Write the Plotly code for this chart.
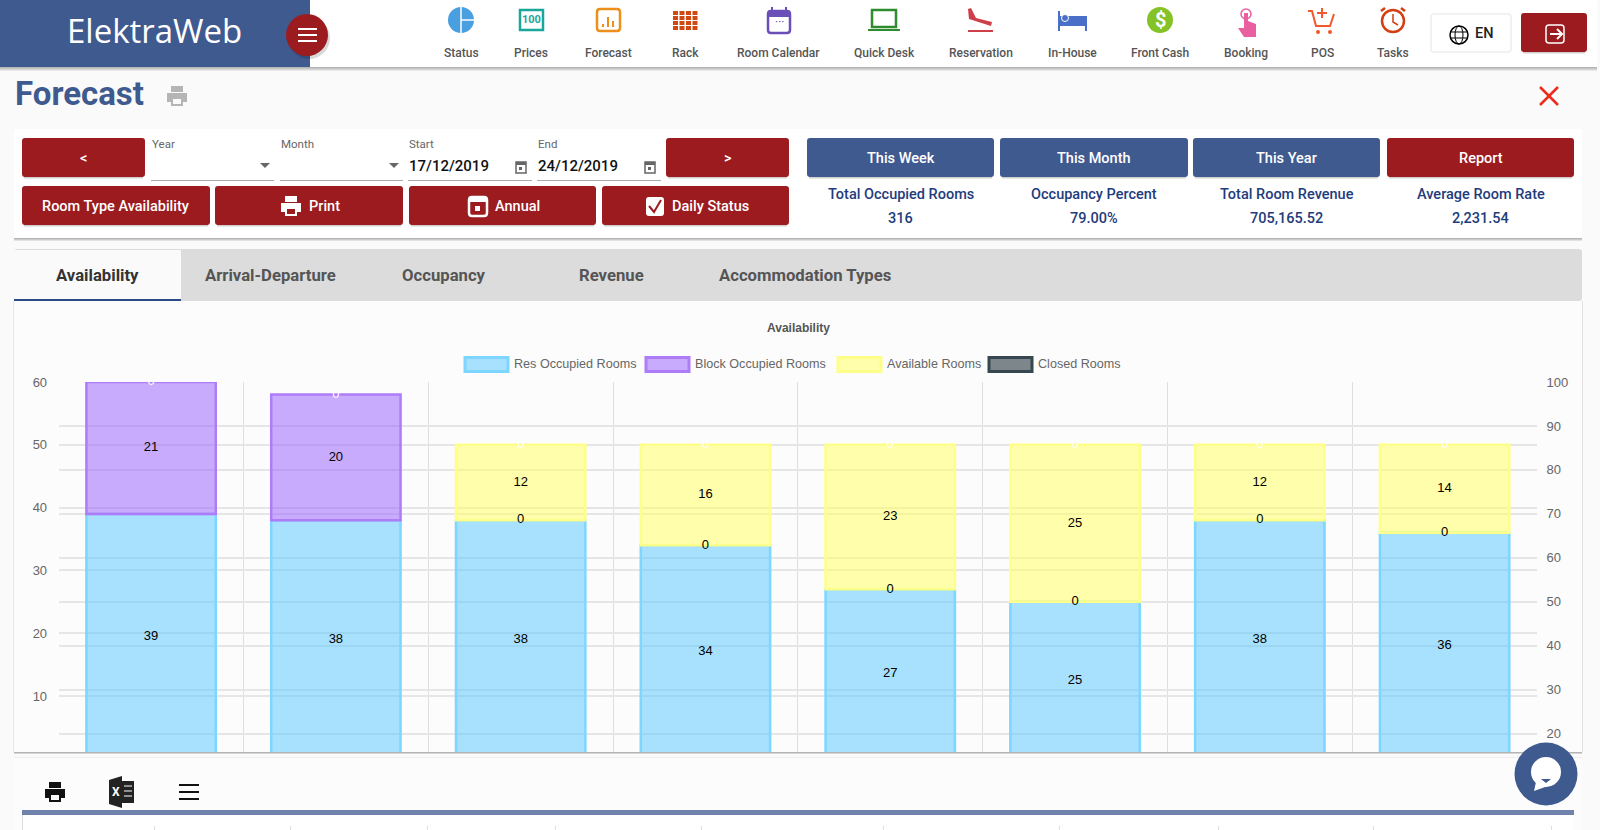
import plotly.graph_objects as go

# Chart values
dates = ["17/12/2019", "18/12/2019", "19/12/2019", "20/12/2019",
         "21/12/2019", "22/12/2019", "23/12/2019", "24/12/2019"]
res_occupied = [39, 38, 38, 34, 27, 25, 38, 36]
block_occupied = [21, 20, 0, 0, 0, 0, 0, 0]
available = [0, 0, 12, 16, 23, 25, 12, 14]
closed = [0, 0, 0, 0, 0, 0, 0, 0]

series_names = ["Res Occupied Rooms", "Block Occupied Rooms", "Available Rooms", "Closed Rooms"]
series_fill = ["rgba(83,198,255,0.5)", "rgba(150,90,253,0.5)", "rgba(255,255,90,0.5)", "rgba(55,71,79,0.65)"]
series_line = ["#7dd6ff", "#ae7cf8", "#feff88", "#37474f"]
label_color = ["black", "black", "black", "white"]

left_ticks = [10, 20, 30, 40, 50, 60]
right_ticks = [20, 30, 40, 50, 60, 70, 80, 90, 100]

# Page text
nav_labels = ["Status", "Prices", "Forecast", "Rack", "Room Calendar", "Quick Desk",
              "Reservation", "In-House", "Front Cash", "Booking", "POS", "Tasks"]
nav_x = [461, 531, 608, 685, 778, 884, 981, 1072, 1160, 1246, 1322, 1393]
tab_labels = ["Availability", "Arrival-Departure", "Occupancy", "Revenue", "Accommodation Types"]
tab_x = [97, 270, 444, 611, 805]
kpi_labels = ["Total Occupied Rooms", "Occupancy Percent", "Total Room Revenue", "Average Room Rate"]
kpi_values = ["316", "79.00%", "705,165.52", "2,231.54"]
kpi_buttons = ["This Week", "This Month", "This Year", "Report"]

BLUE = "#3f5a8f"
RED = "#9c1b1f"
FONT = "Roboto"
CHART_FONT = "Liberation Sans"

shapes = []
annotations = []


def X(x):
    return x / 1600


def Y(y):
    return 1 - y / 830


def rect(x0, y0, x1, y1, fill, line=None, width=1, layer="below"):
    shapes.append(dict(type="rect", xref="paper", yref="paper", x0=X(x0), x1=X(x1), y0=Y(y0), y1=Y(y1),
                       fillcolor=fill, line=dict(color=line or "rgba(0,0,0,0)", width=width if line else 0),
                       layer=layer))


def rrect(x0, y0, x1, y1, fill, r=3, line=None, width=1):
    a, b, c, d = X(x0), X(x1), Y(y0), Y(y1)
    rx, ry = r / 1600, r / 830
    path = (f"M {a + rx:.5f},{c:.5f} L {b - rx:.5f},{c:.5f} Q {b:.5f},{c:.5f} {b:.5f},{c - ry:.5f} "
            f"L {b:.5f},{d + ry:.5f} Q {b:.5f},{d:.5f} {b - rx:.5f},{d:.5f} "
            f"L {a + rx:.5f},{d:.5f} Q {a:.5f},{d:.5f} {a:.5f},{d + ry:.5f} "
            f"L {a:.5f},{c - ry:.5f} Q {a:.5f},{c:.5f} {a + rx:.5f},{c:.5f} Z")
    shapes.append(dict(type="path", xref="paper", yref="paper", path=path, fillcolor=fill,
                       line=dict(color=line or "rgba(0,0,0,0)", width=width if line else 0), layer="below"))


def circle(cx, cy, r, fill, line=None, width=1, layer="below"):
    shapes.append(dict(type="circle", xref="paper", yref="paper", x0=X(cx - r), x1=X(cx + r), y0=Y(cy - r), y1=Y(cy + r),
                       fillcolor=fill, line=dict(color=line or "rgba(0,0,0,0)", width=width if line else 0),
                       layer=layer))


def poly(points, fill=None, line=None, width=1, close=True, layer="below"):
    d = "M " + " L ".join(f"{X(a):.5f},{Y(b):.5f}" for a, b in points) + (" Z" if close else "")
    shapes.append(dict(type="path", xref="paper", yref="paper", path=d,
                       fillcolor=fill or "rgba(0,0,0,0)",
                       line=dict(color=line or "rgba(0,0,0,0)", width=width if line else 0),
                       layer=layer))


def seg(x0, y0, x1, y1, color, width=1, layer="below"):
    poly([(x0, y0), (x1, y1)], line=color, width=width, close=False, layer=layer)


def text(x, y, s, size=13, color="#555", anchor="center", font=FONT, weight=None):
    f = dict(family=font, size=size, color=color)
    if weight:
        f["weight"] = weight
    annotations.append(dict(x=X(x), y=Y(y), xref="paper", yref="paper", text=s, showarrow=False,
                            xanchor=anchor, yanchor="middle", borderpad=0, font=f))


def shadow(x0, y1, x1, depth=4):
    for i in range(depth):
        rect(x0, y1 + i, x1, y1 + i + 1, f"rgba(0,0,0,{0.28 * (depth - i) / depth:.3f})")


def button(x0, y0, x1, y1, fill, label=None, size=14.5):
    shadow(x0 + 2, y1 - 1, x1 - 2, 3)
    rrect(x0, y0, x1, y1, fill)
    if label:
        text((x0 + x1) / 2, (y0 + y1) / 2 + 1, label, size=size, color="white", weight=500)


def printer(cx, cy, color, back="white"):
    rect(cx - 6, cy - 10, cx + 6, cy - 4, color)
    rect(cx - 10, cy - 3, cx + 10, cy + 6, color)
    rect(cx - 6, cy + 2, cx + 6, cy + 10, color)
    rect(cx - 4, cy + 3, cx + 4, cy + 8, back)


def calendar_small(cx, cy):
    rect(cx - 5, cy - 5, cx + 5, cy + 6, "white", line="#666", width=1.5)
    rect(cx - 5, cy - 5, cx + 5, cy - 2, "#666")
    rect(cx - 2, cy, cx + 1, cy + 3, "#666")


# page background and header
rect(0, 0, 1600, 830, "#fafafa")
shadow(0, 67, 1597, 4)
rect(0, 0, 1597, 67, "white")
rect(0, 0, 310, 67, BLUE)
text(154, 30, "ElektraWeb", size=33, color="white", font="Open Sans")
circle(309, 38, 21, "rgba(0,0,0,0.15)")
circle(307, 35, 21, RED)
for yy in (29, 35, 41):
    rect(298, yy - 1, 317, yy + 1, "white")

for name, x in zip(nav_labels, nav_x):
    text(x, 53, name, size=12, weight=500)

# nav icons
circle(461, 20, 13, "#4a9fe0")
seg(461, 7, 461, 33, "white", 1.5)
seg(461, 20, 474, 20, "white", 1.5)
rect(520, 10, 543, 30, "white", line="#1aa79a", width=2.5)
text(531.5, 20, "<b>100</b>", size=11, color="#1aa79a")
rrect(597, 9, 620, 31, "white", line="#ee8f1c", width=2.5)
for bx, by in ((603, 24), (608, 17), (613, 21)):
    rect(bx - 1, by, bx + 1, 27, "#ee8f1c")
for col in range(4):
    for row in range(4):
        rect(673 + col * 6.5, 11 + row * 5, 678 + col * 6.5, 15 + row * 5, "#cf4a13")
rrect(768, 11, 790, 33, "white", line="#6a4fb8", width=2.5)
rect(768, 11, 790, 17, "#6a4fb8")
seg(772, 7, 772, 11, "#6a4fb8", 2)
seg(786, 7, 786, 11, "#6a4fb8", 2)
text(779, 22, "···", size=12, color="#6a4fb8")
rect(872, 10, 896, 27, "white", line="#2e8b2e", width=2.5)
rect(868, 29, 900, 31, "#2e8b2e")
poly([(968, 9), (971, 8), (976, 18), (992, 22), (991, 26), (969, 19)], fill="#cf3f4a")
rect(968, 30, 993, 32, "#cf3f4a")
rect(1058, 11, 1060, 31, "#4a6fc8")
rect(1085, 20, 1087, 31, "#4a6fc8")
rect(1060, 16, 1087, 26, "#4a6fc8")
circle(1065, 18, 3.5, "#4a6fc8", line="white")
circle(1160, 20, 13, "#84c225")
text(1160, 20, "<b>$</b>", size=20, color="white")
circle(1246, 14, 5, "white", line="#e8609f", width=1.5)
poly([(1244, 13), (1248, 13), (1248, 21), (1256, 24), (1256, 37), (1244, 37), (1238, 28), (1244, 28)], fill="#e8609f")
poly([(1308, 11), (1312, 11), (1316, 26), (1330, 26), (1334, 14)], line="#f4572a", width=2, close=False)
seg(1322, 8, 1322, 18, "#f4572a", 2)
seg(1317, 13, 1327, 13, "#f4572a", 2)
circle(1318, 32, 2, "#f4572a")
circle(1330, 32, 2, "#f4572a")
circle(1393, 21, 11, "white", line="#d43e10", width=2.5)
poly([(1393, 14), (1393, 22), (1398, 25)], line="#d43e10", width=1.5, close=False)
seg(1381, 11, 1385, 8, "#d43e10", 2.5)
seg(1401, 8, 1405, 11, "#d43e10", 2.5)

rrect(1431, 14, 1511, 52, "white", line="#eeeeee", width=1.5)
circle(1459, 35, 9, "white", line="black", width=1.5)
shapes.append(dict(type="circle", xref="paper", yref="paper", x0=X(1455), x1=X(1463), y0=Y(26), y1=Y(44),
                   line=dict(color="black", width=1), layer="below"))
seg(1450, 32, 1468, 32, "black", 1)
seg(1450, 38, 1468, 38, "black", 1)
text(1484, 33, "EN", size=14.5, color="#222", weight=500)
button(1521, 13, 1587, 52, RED)
rrect(1546, 25, 1564, 43, RED, line="white", width=1.5)
poly([(1550, 34), (1561, 34)], line="white", width=2, close=False)
poly([(1557, 29), (1562, 34), (1557, 39)], line="white", width=2, close=False)

# title row
text(14, 94, "<b>Forecast</b>", size=33, color=BLUE, anchor="left")
printer(177, 96, "#b5b5b5", "#fafafa")
seg(1540, 87, 1558, 105, "#ee2a1e", 2.5)
seg(1558, 87, 1540, 105, "#ee2a1e", 2.5)

# filter panel
shadow(14, 238, 1582, 3)
rrect(14, 129, 1582, 238, "white")
button(22, 138, 145, 177, RED, "<")
button(666, 138, 789, 177, RED, ">")
button(22, 186, 210, 225, RED, "Room Type Availability")
button(215, 186, 403, 225, RED)
printer(291, 206, "white", RED)
text(308, 206, "Print", size=14.5, color="white", anchor="left", weight=500)
button(409, 186, 596, 225, RED)
rrect(469, 197, 487, 216, RED, line="white", width=2.5)
rect(469, 197, 487, 202, "white")
rect(475, 206, 480, 211, "white")
text(494, 206, "Annual", size=14.5, color="white", anchor="left", weight=500)
button(602, 186, 789, 225, RED)
rrect(646, 197, 664, 216, "white")
poly([(649, 206), (654, 212), (661, 200)], line=RED, width=2, close=False)
text(671, 206, "Daily Status", size=14.5, color="white", anchor="left", weight=500)

field_x0 = [151, 280, 408, 537]
field_x1 = [274, 403, 532, 661]
field_names = ["Year", "Month", "Start", "End"]
field_values = ["", "", "17/12/2019", "24/12/2019"]
for i in range(4):
    text(field_x0[i], 144, field_names[i], size=11.5, color="#666", anchor="left")
    rect(field_x0[i], 180, field_x1[i], 181, "#aaaaaa")
    if field_values[i]:
        text(field_x0[i], 166, field_values[i], size=15, color="#111", anchor="left", weight=500)
        calendar_small(field_x1[i] - 11, 167)
    else:
        ax = field_x1[i] - 9
        poly([(ax - 5, 163), (ax + 5, 163), (ax, 168)], fill="#666")

kpi_x0 = [807, 1000, 1193, 1387]
kpi_x1 = [994, 1188, 1380, 1574]
for i in range(4):
    button(kpi_x0[i], 138, kpi_x1[i], 177, RED if kpi_buttons[i] == "Report" else BLUE, kpi_buttons[i])
    mid = (kpi_x0[i] + kpi_x1[i]) / 2
    text(mid, 194, kpi_labels[i], size=14.5, color="#1f3c7c", weight=500)
    text(mid, 218, kpi_values[i], size=14.5, color="#1f3c7c", weight=500)

# tabs
rrect(14, 249, 1582, 301, "#dcdcdc")
rect(14, 250, 181, 301, "#fafafa")
rect(14, 299, 181, 301, "#2c4a86")
for i, name in enumerate(tab_labels):
    text(tab_x[i], 275, f"<b>{name}</b>", size=16.7, color="#333" if i == 0 else "#555")

# chart panel
shadow(14, 752, 1582, 2)
rect(14, 301, 1582, 752, "#fcfcfc")
rect(13, 301, 14, 752, "#e8e8e8")
rect(1582, 301, 1583, 752, "#e2e2e2")
text(798, 328, "<b>Availability</b>", size=12, color="#555", font=CHART_FONT)

legend_x0 = [464, 645, 837, 988]
for i in range(4):
    rect(legend_x0[i] + 1, 357.5, legend_x0[i] + 44, 371.5, series_fill[i], line=series_line[i], width=3)
    text(legend_x0[i] + 49, 364, series_names[i], size=12.6, color="#666", font=CHART_FONT, anchor="left")

# bottom panel
rect(14, 758, 1582, 830, "#fcfcfc")
rect(14, 757, 1582, 758, "#efefef")
printer(55, 792, "#111")
poly([(109, 780), (122, 776), (122, 808), (109, 804)], fill="#222")
rect(122, 781, 134, 803, "#222")
for yy in (786, 791, 796):
    seg(124, yy, 132, yy, "white", 1)
text(115.5, 792, "<b>X</b>", size=12, color="white")
for yy in (785, 792, 799):
    rect(179, yy - 1, 199, yy + 1, "#111")
rect(22, 810, 1574, 815, "#6f83ad")
rect(22, 815, 1574, 830, "white")
rect(22, 815, 23, 830, "#dddddd")
for lx in (154, 290, 427, 555, 701, 883, 1059, 1218, 1373, 1551):
    rect(lx, 826, lx + 1, 830, "#dddddd")

# chat bubble
circle(1546, 774, 31.5, BLUE, layer="above")
circle(1546, 772, 15, "white", layer="above")
poly([(1536, 782), (1534, 791), (1548, 786)], fill="white", layer="above")
poly([(1541, 779), (1551, 779), (1546, 783)], fill=BLUE, layer="above")

fig = go.Figure()

stack_base = [0] * len(dates)
all_series = [res_occupied, block_occupied, available, closed]
for i, values in enumerate(all_series):
    # zero sized segments get no bar, only a label
    fig.add_trace(go.Bar(
        x=dates, y=[v if v else None for v in values], base=stack_base, name=series_names[i], width=0.7,
        marker=dict(color=series_fill[i], line=dict(color=series_line[i], width=2.5)),
        showlegend=False,
    ))
    stack_base = [b + v for b, v in zip(stack_base, values)]

stack_base = [0] * len(dates)
for i, values in enumerate(all_series):
    mids = [b + v / 2 for b, v in zip(stack_base, values)]
    # the available 0 sits under the white closed 0 in the first two columns
    labels = ["" if series_names[i] == "Available Rooms" and v == 0 else str(v) for v in values]
    fig.add_trace(go.Scatter(
        x=dates, y=mids, mode="text", text=labels, textposition="middle center",
        textfont=dict(family=CHART_FONT, size=13, color=label_color[i]),
        cliponaxis=False, showlegend=False, hoverinfo="skip",
    ))
    stack_base = [b + v for b, v in zip(stack_base, values)]

# right axis has no visible series in this view
fig.add_trace(go.Scatter(x=dates, y=[None] * len(dates), yaxis="y2", mode="lines", showlegend=False, hoverinfo="skip"))

fig.update_layout(
    width=1600, height=830,
    margin=dict(l=0, r=0, t=0, b=0, autoexpand=False),
    barmode="overlay",
    paper_bgcolor="#fafafa",
    plot_bgcolor="rgba(0,0,0,0)",
    shapes=shapes,
    annotations=annotations,
    xaxis=dict(domain=[X(58.7), X(1537)], type="category", tickson="boundaries", showticklabels=False,
               showgrid=True, gridcolor="#dedede", gridwidth=1, ticks="", zeroline=False,
               range=[-0.5, 7.5], fixedrange=True),
    yaxis=dict(domain=[Y(752), Y(382)], range=[1.1, 60], tickvals=left_ticks, showgrid=True,
               gridcolor="#e6e6e6", gridwidth=1.5, zeroline=False, ticks="outside", ticklen=8,
               tickcolor="rgba(0,0,0,0)", tickfont=dict(family=CHART_FONT, size=13, color="#666")),
    yaxis2=dict(overlaying="y", side="right", range=[15.8, 100], tickvals=right_ticks, showgrid=True,
                gridcolor="#e6e6e6", gridwidth=1.5, zeroline=False, ticks="outside", ticklen=6,
                tickcolor="rgba(0,0,0,0)", tickfont=dict(family=CHART_FONT, size=13, color="#666")),
)

fig.write_html("out.html", config={"displayModeBar": False},
               post_script="document.body.style.margin='0';document.body.style.overflow='hidden';")
